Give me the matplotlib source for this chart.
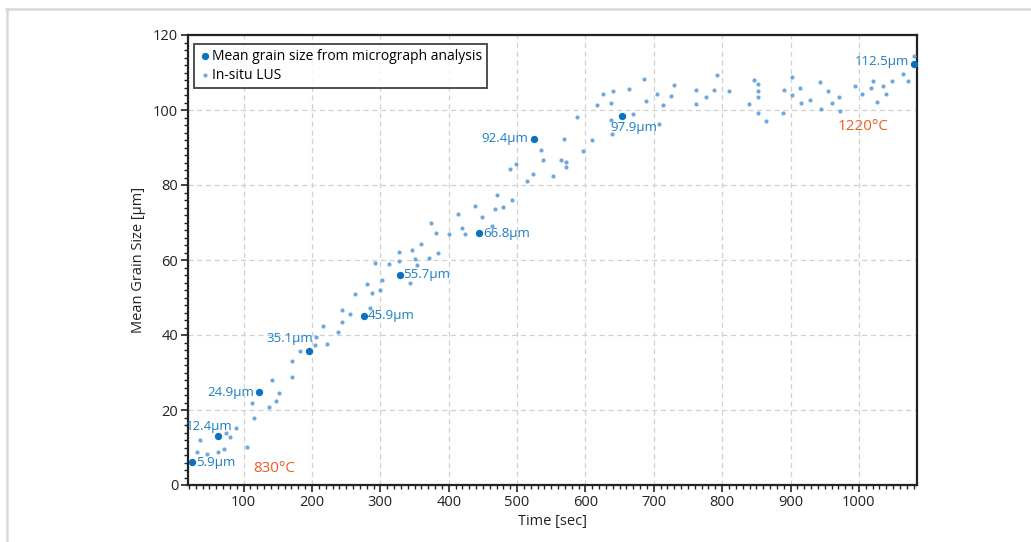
import matplotlib
matplotlib.use("Agg")
import matplotlib.pyplot as plt
from matplotlib.ticker import MultipleLocator
from matplotlib.lines import Line2D

plt.rcParams['font.family'] = ['Open Sans', 'DejaVu Sans']

# Mean grain size from micrograph analysis
micro_time = [24, 62, 123, 195, 276, 329, 444, 525, 654, 1081]
micro_size = [6.1, 13.0, 24.7, 35.8, 45.1, 56.1, 67.1, 92.4, 98.5, 112.3]
micro_labels = ["5.9µm", "12.4µm", "24.9µm", "35.1µm", "45.9µm", "55.7µm",
                "66.8µm", "92.4µm", "97.9µm", "112.5µm"]

# In-situ LUS
lus_time = [32, 36, 46, 63, 71, 74, 80, 89, 105, 112, 115, 137, 141, 148, 151,
            171, 171, 183, 204, 206, 216, 222, 238, 244, 244, 256, 263, 281, 285,
            288, 292, 300, 303, 312, 327, 327, 343, 346, 351, 354, 359, 371, 374,
            382, 385, 400, 413, 420, 424, 438, 449, 464, 467, 470, 479, 489, 493,
            499, 514, 524, 535, 538, 552, 564, 569, 572, 572, 588, 596, 610, 617,
            626, 638, 638, 639, 641, 663, 670, 686, 688, 705, 708, 713, 725, 730,
            762, 762, 777, 788, 792, 810, 839, 846, 852, 852, 852, 853, 864, 889,
            890, 902, 902, 914, 915, 928, 943, 944, 955, 961, 971, 972, 995, 1005,
            1017, 1020, 1027, 1035, 1040, 1049, 1065, 1072, 1080]
lus_size = [8.8, 12.1, 8.3, 8.8, 9.5, 13.9, 12.7, 15.1, 10.1, 21.9, 17.9, 20.7,
            28.0, 22.5, 24.5, 33.1, 28.7, 35.8, 37.3, 39.4, 42.4, 37.5, 40.8, 43.5,
            46.8, 45.6, 51.0, 53.5, 47.2, 51.3, 59.1, 51.9, 54.8, 58.9, 59.7, 62.2,
            54.0, 62.6, 60.3, 58.6, 64.2, 60.6, 69.8, 67.3, 61.9, 67.0, 72.3, 68.5,
            66.9, 74.5, 71.5, 69.2, 73.5, 77.3, 74.1, 84.2, 76.1, 85.5, 81.2, 82.9,
            89.3, 86.7, 82.3, 86.8, 92.4, 86.1, 84.7, 98.2, 89.1, 91.9, 101.3,
            104.3, 101.9, 97.3, 93.5, 105.2, 105.6, 98.9, 108.4, 102.5, 104.2,
            96.4, 101.3, 103.7, 106.7, 105.3, 101.6, 103.4, 105.4, 109.3, 105.0,
            101.6, 108.1, 106.9, 105.0, 99.3, 103.4, 97.0, 99.3, 105.4, 108.7,
            104.0, 106.0, 101.9, 102.6, 107.5, 100.4, 105.0, 101.9, 103.4, 99.7,
            106.4, 104.3, 106.0, 107.7, 102.2, 106.4, 104.3, 107.7, 109.5, 107.7,
            114.5]

temp_labels = ["830°C", "1220°C"]
temp_pos = [(144, 4.5), (1006, 95.5)]

DARK = "#0a72c0"
LIGHT = "#6fa6dc"
TXT = "#1b7ec4"
ORANGE = "#f15a24"

fig = plt.figure(figsize=(10.31, 5.42), dpi=100)
ax = fig.add_axes([188 / 1031, 1 - 485 / 542, (917 - 188) / 1031, (485 - 35) / 542])

ax.scatter(lus_time, lus_size, s=9, color=LIGHT, linewidths=0, zorder=3,
           label="In-situ LUS")
ax.scatter(micro_time, micro_size, s=28, color=DARK, linewidths=0, zorder=4,
           label="Mean grain size from micrograph analysis", clip_on=False)

# label offsets (points) and alignment
offs = [(3, 0, 'left', 'center'), (-6, 2, 'center', 'bottom'),
        (-4, 0, 'right', 'center'), (3, 4, 'right', 'bottom'),
        (3, 0, 'left', 'center'), (2, 0, 'left', 'center'),
        (3, 0, 'left', 'center'), (-4, 0, 'right', 'center'),
        (8, -4, 'center', 'top'), (-4, 2, 'right', 'center')]
for t, s, lab, (dx, dy, ha, va) in zip(micro_time, micro_size, micro_labels, offs):
    ax.annotate(lab, (t, s), xytext=(dx, dy), textcoords='offset points',
                ha=ha, va=va, color=TXT, fontsize=9.5, zorder=5)

for lab, (tx, ty) in zip(temp_labels, temp_pos):
    ax.text(tx, ty, lab, color=ORANGE, fontsize=11, ha='center', va='center')

ax.set_xlim(18.6, 1085)
ax.set_ylim(0, 120)
ax.xaxis.set_major_locator(MultipleLocator(100))
ax.xaxis.set_minor_locator(MultipleLocator(10))
ax.yaxis.set_major_locator(MultipleLocator(20))
ax.yaxis.set_minor_locator(MultipleLocator(2))
ax.tick_params(which='major', direction='out', length=5, width=1.2,
               labelsize=10.5, colors='#222222', pad=2)
ax.tick_params(which='minor', direction='out', length=3, width=1.0,
               colors='#222222')
ax.grid(True, which='major', linestyle=(0, (4, 3)), color='#d0d0d0', linewidth=0.9)
ax.set_axisbelow(True)
for sp in ax.spines.values():
    sp.set_linewidth(1.6)
    sp.set_color('#222222')

ax.set_xlabel("Time [sec]", fontsize=10.5, color='#222222')
ax.xaxis.set_label_coords(0.5, -0.065)
ax.set_ylabel("Mean Grain Size [µm]", fontsize=10.5, color='#222222')
ax.yaxis.set_label_coords(-0.057, 0.5)

handles, labels = ax.get_legend_handles_labels()
leg = ax.legend(handles[::-1], labels[::-1], loc='upper left',
                bbox_to_anchor=(0.002, 0.99), fontsize=10, frameon=True,
                fancybox=False, edgecolor='#222222', handletextpad=0.0,
                borderpad=0.35, labelspacing=0.3, handlelength=1.0,
                borderaxespad=0.3, markerscale=1.0)
leg.get_frame().set_linewidth(1.4)

# light frame lines around figure
fig.add_artist(Line2D([6 / 1031, 1], [1 - 8.5 / 542, 1 - 8.5 / 542],
                      transform=fig.transFigure, color='#d9d9d9', linewidth=1.8))
fig.add_artist(Line2D([6.5 / 1031, 6.5 / 1031], [0, 1 - 8.5 / 542],
                      transform=fig.transFigure, color='#d9d9d9', linewidth=1.8))

fig.savefig("out.png", dpi=100)
